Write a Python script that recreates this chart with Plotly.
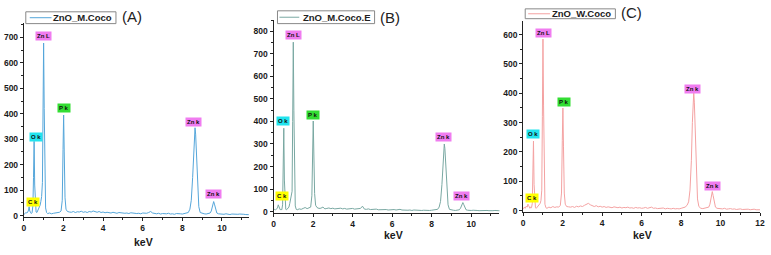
import plotly.graph_objects as go

# ---------------- data ----------------
kev = [0.00,0.05,0.10,0.15,0.20,0.24,0.27,0.30,0.34,0.38,0.42,0.46,0.49,0.52,0.55,0.58,0.62,0.66,0.70,0.74,
       0.78,0.82,0.86,0.90,0.94,0.97,1.00,1.03,1.06,1.10,1.15,1.20,1.30,1.40,1.50,1.60,1.70,1.80,1.88,1.94,
       1.98,2.01,2.04,2.08,2.13,2.20,2.30,
       2.4,2.5,2.6,2.7,2.8,2.9,3.0,3.1,3.2,3.3,3.4,3.5,3.6,3.7,3.8,3.9,4.0,4.1,4.2,4.3,4.4,4.5,4.6,4.7,4.8,4.9,
       5.0,5.1,5.2,5.3,5.4,5.5,5.6,5.7,5.8,5.9,6.0,6.1,6.2,6.3,6.4,6.5,6.6,6.7,6.8,6.9,7.0,7.1,7.2,7.3,7.4,7.5,
       7.6,7.7,7.8,7.9,8.0,8.1,8.2,8.3,
       8.38,8.45,8.52,8.57,8.61,8.64,8.67,8.71,8.76,8.83,8.9,9.0,9.1,9.2,9.3,9.4,9.46,9.51,9.55,9.58,9.62,9.67,
       9.74,9.82,9.9,
       10.0,10.1,10.2,10.3,10.4,10.5,10.6,10.7,10.8,10.9,11.0,11.1,11.2,11.3,11.4,11.5,11.6,11.7,11.8,11.9,12.0]

counts_M_coco = [3,8,12,10,14,22,35,18,10,8,12,40,150,292,120,30,14,12,18,22,
                 30,40,55,75,130,380,678,420,120,30,12,8,10,7,9,11,10,13,18,60,
                 260,395,250,70,25,16,14,
                 13,16,12,15,14,17,13,15,12,16,14,18,15,13,16,12,14,11,13,12,10,13,11,9,12,10,
                 11,9,10,8,11,9,10,8,9,7,10,8,9,12,16,10,8,7,9,6,8,6,7,9,6,7,
                 5,8,6,7,6,8,9,12,
                 25,60,150,260,330,345,320,230,110,35,12,8,7,6,8,10,18,35,52,55,45,25,
                 10,7,6,
                 6,5,7,5,4,6,5,4,5,6,4,5,4,3,5,4,3,4,5,3,4]

counts_M_coco_E = [5,10,8,12,15,30,22,12,8,10,8,30,180,370,140,25,10,8,12,15,
                   20,35,60,70,90,400,752,450,110,25,10,8,12,10,14,18,13,16,20,70,
                   280,402,260,80,28,18,14,
                   15,20,12,14,16,13,15,12,14,13,15,12,14,11,13,12,14,11,12,10,14,24,11,10,12,9,
                   10,9,11,8,9,10,8,9,7,8,7,9,7,8,10,7,6,8,6,7,5,7,6,5,7,5,
                   6,5,6,5,6,7,8,10,
                   20,45,120,220,285,300,280,200,95,30,10,7,6,5,7,8,15,28,38,40,32,18,
                   8,6,5,
                   5,6,4,5,4,5,3,4,5,4,3,4,5,3,4,3,4,3,4,3,3]

counts_W_coco = [5,12,8,15,12,22,18,10,8,12,10,25,120,237,90,20,10,8,12,15,
                 18,20,25,35,70,320,585,360,90,22,10,8,12,10,14,11,13,12,18,60,
                 240,350,220,60,22,14,13,
                 12,14,11,15,13,16,14,18,22,25,20,16,14,17,13,15,12,14,11,13,12,10,13,11,10,12,
                 9,11,10,12,9,10,8,11,9,10,8,9,11,8,10,12,8,9,7,8,7,9,6,8,7,6,
                 8,6,7,6,8,9,12,18,
                 30,70,170,300,385,402,370,270,130,40,14,8,7,8,9,12,22,42,60,65,52,28,
                 12,8,7,
                 7,6,8,5,6,7,5,6,4,5,6,4,5,4,5,3,4,5,3,4,3]

series_names = ["ZnO_M.Coco", "ZnO_M.Coco.E", "ZnO_W.Coco"]
panel_tags = ["(A)", "(B)", "(C)"]
x_title = "keV"

peak_labels = ["C k", "O k", "Zn L", "P k", "Zn k", "Zn k"]
peak_kev = [0.277, 0.525, 1.012, 2.013, 8.63, 9.57]

assert len(kev) == len(counts_M_coco) == len(counts_M_coco_E) == len(counts_W_coco)

# ---------------- layout helpers ----------------
W, H = 771, 255
def px(x): return x / W
def py(y): return 1 - y / H

label_colors = {"C k": "#ffff00", "O k": "#22e4ee", "Zn L": "#f07cf0", "P k": "#33dd33", "Zn k": "#f07cf0"}

panels = [
    dict(counts=counts_M_coco, color="#55a6da", box=(22, 249, 23.8, 220.3), xr=[0, 11.35], yr=[-5, 755],
         ymax=700, lab_pos=[(0.45, 54), (0.6, 309), (1.0, 704), (2.05, 421), (8.55, 367), (9.55, 85)],
         leg=(24, 115, 12, 24), line=(28, 50), tag=(131, 17), title=(143, 246)),
    dict(counts=counts_M_coco_E, color="#79a8a2", box=(274, 502, 20.4, 216.1), xr=[0, 11.43], yr=[-5, 850],
         ymax=800, lab_pos=[(0.45, 70), (0.5, 402), (1.0, 782), (2.0, 428), (8.62, 332), (9.52, 70)],
         leg=(278, 376, 11, 24), line=(280, 300), tag=(392, 18), title=(395, 239)),
    dict(counts=counts_W_coco, color="#f4a2a2", box=(526, 765, 20.9, 215.5), xr=[0, 12], yr=[-5, 648],
         ymax=600, lab_pos=[(0.45, 44), (0.5, 262), (1.05, 604), (2.06, 369), (8.59, 416), (9.6, 84)],
         leg=(528, 619, 9, 19), line=(531, 553), tag=(635, 13), title=(646, 239)),
]

fig = go.Figure()
annotations = []
shapes = []
axis_color = "#222222"
tickfont = dict(family="Arial", size=8.5, color="#1a1a1a", weight="bold")

for i, p in enumerate(panels):
    sfx = "" if i == 0 else str(i + 1)
    fig.add_trace(go.Scatter(x=kev, y=p["counts"], mode="lines", name=series_names[i],
                             line=dict(color=p["color"], width=1), showlegend=False,
                             xaxis="x" + sfx, yaxis="y" + sfx))
    x0, x1, yt, yb = p["box"]
    fig.layout["xaxis" + sfx] = dict(
        domain=[px(x0), px(x1)], range=p["xr"], anchor="y" + sfx,
        showgrid=False, zeroline=False, showline=True, linecolor=axis_color, linewidth=1,
        ticks="outside", ticklen=3, tickcolor=axis_color, tickwidth=1, dtick=2, tick0=0,
        minor=dict(ticks="outside", ticklen=2, dtick=1, tickcolor=axis_color),
        tickfont=tickfont)
    fig.layout["yaxis" + sfx] = dict(
        domain=[py(yb), py(yt)], range=p["yr"], anchor="x" + sfx,
        showgrid=False, zeroline=False, showline=True, linecolor=axis_color, linewidth=1,
        ticks="outside", ticklen=3, tickcolor=axis_color, tickwidth=1,
        tickvals=list(range(0, p["ymax"] + 1, 100)),
        minor=dict(ticks="outside", ticklen=2, dtick=50, tickcolor=axis_color),
        tickfont=tickfont)
    # x-axis title
    annotations.append(dict(x=px(p["title"][0]), y=py(p["title"][1]), xref="paper", yref="paper",
                            xanchor="center", yanchor="middle", text="<b>" + x_title + "</b>", showarrow=False,
                            font=dict(family="Arial", size=10.5, color="#1a1a1a")))
    # peak labels
    for lab, (lx, ly) in zip(peak_labels, p["lab_pos"]):
        annotations.append(dict(x=lx, y=ly, xref="x" + sfx, yref="y" + sfx, text="<b>" + lab + "</b>",
                                showarrow=False, bgcolor=label_colors[lab], borderpad=1,
                                font=dict(family="Arial", size=6, color="#111")))
    # legend box
    lx0, lx1, ly0, ly1 = p["leg"]
    shapes.append(dict(type="rect", xref="paper", yref="paper", x0=px(lx0), x1=px(lx1), y0=py(ly1), y1=py(ly0),
                       line=dict(color="#888888", width=1), fillcolor="white"))
    ymid = (ly0 + ly1) / 2
    shapes.append(dict(type="line", xref="paper", yref="paper", x0=px(p["line"][0]), x1=px(p["line"][1]),
                       y0=py(ymid), y1=py(ymid), line=dict(color=p["color"], width=1)))
    annotations.append(dict(x=px(lx1 - 2), y=py(ymid), xref="paper", yref="paper", xanchor="right", yanchor="middle",
                            text="<b>" + series_names[i] + "</b>", showarrow=False,
                            font=dict(family="Arial", size=9.5, color="#222")))
    annotations.append(dict(x=px(p["tag"][0]), y=py(p["tag"][1]), xref="paper", yref="paper",
                            xanchor="center", yanchor="middle", text=panel_tags[i], showarrow=False,
                            font=dict(family="Arial", size=15, color="#222")))

fig.update_layout(width=W, height=H, margin=dict(l=0, r=0, t=0, b=0),
                  paper_bgcolor="white", plot_bgcolor="white",
                  annotations=annotations, shapes=shapes, showlegend=False)
fig.write_html("out.html")
